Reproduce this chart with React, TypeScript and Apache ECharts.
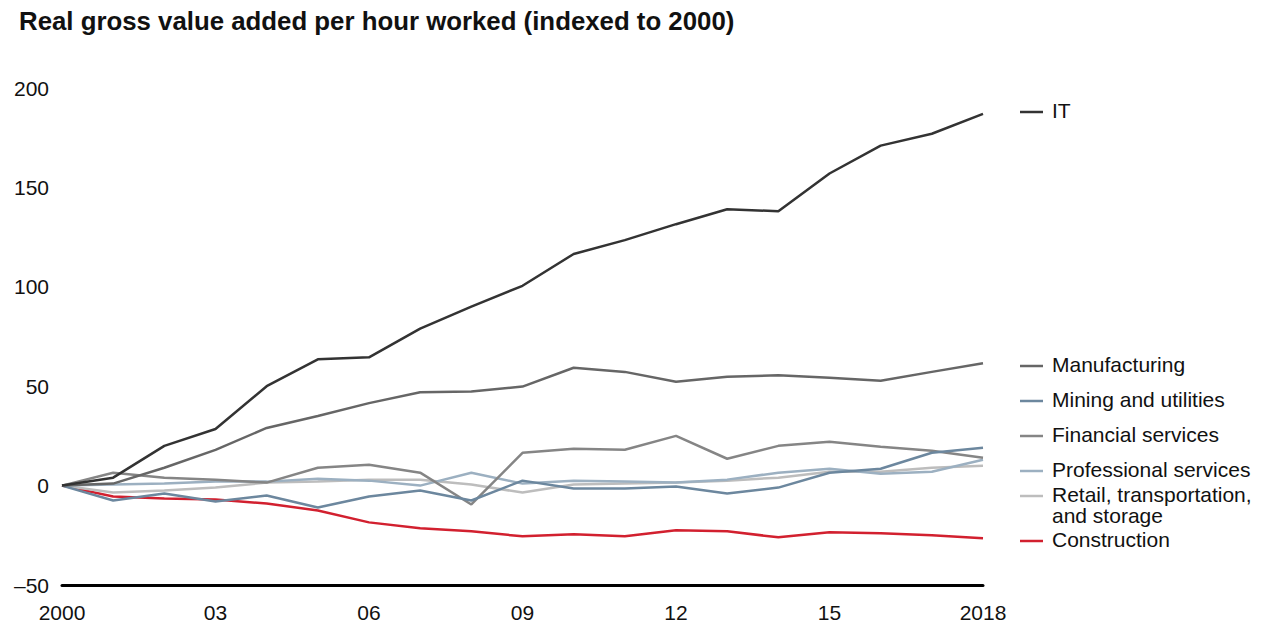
import React, { useEffect, useRef } from "react";
import * as echarts from "echarts";

const years = ["2000","2001","2002","2003","2004","2005","2006","2007","2008","2009","2010","2011","2012","2013","2014","2015","2016","2017","2018"];
const yTicks = [-50, 0, 50, 100, 150, 200];

const itData = [0, 4, 20, 28.5, 50, 63.5, 64.5, 79, 90, 100.5, 116.5, 123.5, 131.5, 139, 138, 157, 171, 177, 187];
const manufacturingData = [0, 1, 9, 18, 29, 35, 41.5, 47, 47.3, 49.8, 59.3, 57.2, 52.2, 54.8, 55.5, 54.2, 52.7, 57.2, 61.5];
const miningData = [0, -7.5, -4, -8, -5, -11, -5.5, -2.5, -7.5, 2.5, -1.5, -1.5, -0.5, -4, -1, 6.5, 8.5, 16.5, 19];
const financialData = [0, 6.5, 4, 3, 1.5, 9, 10.5, 6.5, -9.5, 16.5, 18.5, 18, 25, 13.5, 20, 22, 19.5, 17.5, 14];
const professionalData = [0, 0.5, 1, 2, 2, 3.5, 2.5, 0, 6.5, 1, 2.5, 2, 1.5, 3, 6.5, 8.5, 6, 7, 13];
const retailData = [0, -3.5, -2.5, -1, 1.5, 2, 3, 3, 0.5, -3.5, 0.5, 1, 1.5, 2.5, 4, 7, 7, 9, 10];
const constructionData = [0, -5.5, -6.5, -7, -9, -12.5, -18.5, -21.5, -23, -25.5, -24.5, -25.5, -22.5, -23, -26, -23.5, -24, -25, -26.5];

const seriesNames = ["IT", "Manufacturing", "Mining and utilities", "Financial services", "Professional services", "Retail, transportation,\nand storage", "Construction"];
const seriesColors = ["#333333", "#666666", "#6c879e", "#858585", "#9cb0c1", "#bdbdbd", "#d2202f"];
const seriesData = [itData, manufacturingData, miningData, financialData, professionalData, retailData, constructionData];
const legendY = [110, 364, 399, 434, 469, 494, 539];

const FONT = "'Liberation Sans', Arial, Helvetica, sans-serif";
const LEGEND_LH = 21.5;

export default function App() {
  const ref = useRef<HTMLDivElement>(null);
  useEffect(() => {
    if (!ref.current) return;
    const chart = echarts.init(ref.current, null, { renderer: "svg" });
    const legendGraphics: any[] = [];
    seriesNames.forEach((name, i) => {
      const y = legendY[i];
      legendGraphics.push({
        type: "line",
        shape: { x1: 1020, y1: y + 2, x2: 1043, y2: y + 2 },
        style: { stroke: seriesColors[i], lineWidth: 2.5 },
      });
      legendGraphics.push({
        type: "text",
        x: 1052,
        y: y - LEGEND_LH / 2,
        style: {
          text: name,
          fill: "#111111",
          font: `21px ${FONT}`,
          verticalAlign: "top",
          lineHeight: LEGEND_LH,
        } as any,
      });
    });

    chart.setOption({
      animation: false,
      backgroundColor: "#ffffff",
      textStyle: { fontFamily: FONT },
      title: {
        text: "Real gross value added per hour worked (indexed to 2000)",
        left: 14,
        top: 3,
        textStyle: { fontFamily: FONT, fontWeight: "bold", fontSize: 25.8, color: "#111111" },
      },
      grid: { left: 62, right: 284, top: 88, bottom: 43, containLabel: false },
      xAxis: {
        type: "category",
        data: years,
        boundaryGap: false,
        axisLine: { onZero: false, lineStyle: { color: "#000000", width: 3 } },
        axisTick: { show: false },
        splitLine: { show: false },
        axisLabel: {
          interval: 2,
          margin: 17,
          fontSize: 21,
          color: "#111111",
          fontFamily: FONT,
          formatter: (v: string, idx: number) => (idx === 0 || idx === years.length - 1 ? v : v.slice(2)),
        },
      },
      yAxis: {
        type: "value",
        min: yTicks[0],
        max: yTicks[yTicks.length - 1],
        interval: 50,
        axisLine: { show: false },
        axisTick: { show: false },
        splitLine: { show: false },
        axisLabel: {
          margin: 13,
          fontSize: 21,
          color: "#111111",
          fontFamily: FONT,
          formatter: (v: number) => (v < 0 ? "\u2013" + Math.abs(v) : String(v)),
        },
      },
      series: seriesData.map((d, i) => ({
        name: seriesNames[i],
        type: "line",
        data: d,
        symbol: "none",
        z: 10 - i,
        lineStyle: { color: seriesColors[i], width: 2.5 },
        itemStyle: { color: seriesColors[i] },
      })),
      graphic: legendGraphics,
    });
    return () => chart.dispose();
  }, []);
  return <div ref={ref} style={{ position: "absolute", left: 0, top: 0, width: 1267, height: 628 }} />;
}
